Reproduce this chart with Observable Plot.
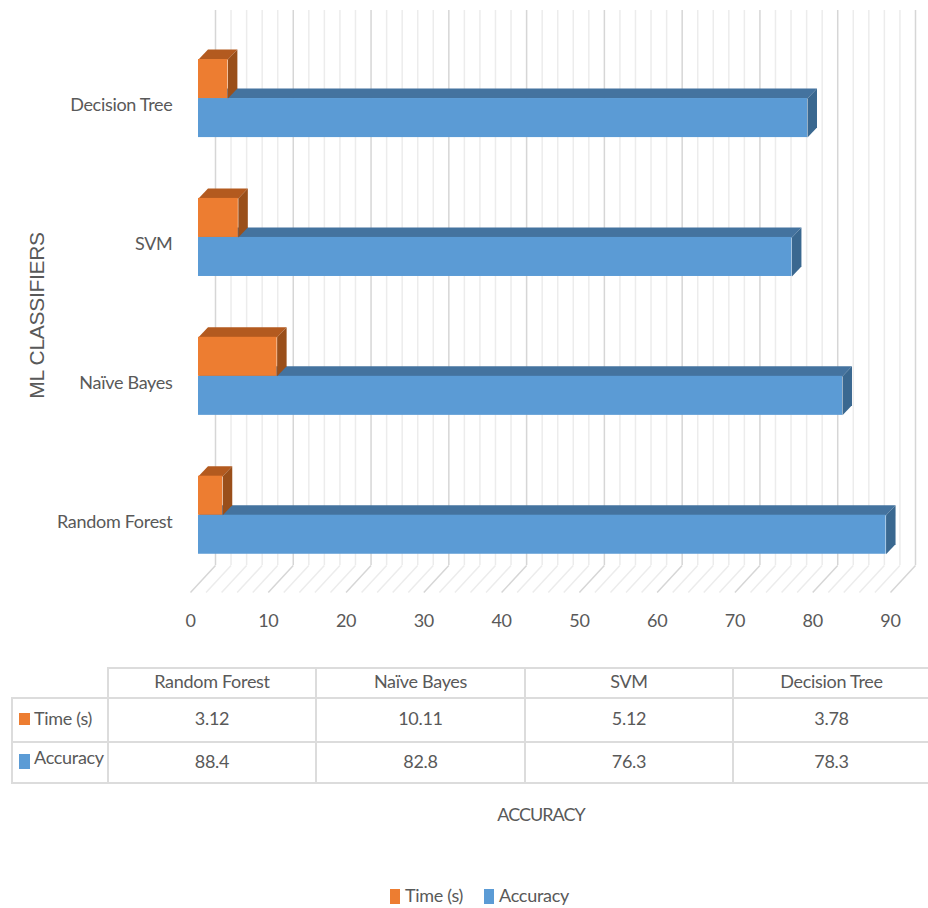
<!DOCTYPE html>
<html>
<head>
<meta charset="utf-8">
<script src="https://cdn.jsdelivr.net/npm/d3@7"></script>
<script src="https://cdn.jsdelivr.net/npm/@observablehq/plot@0.6"></script>
<style>
  html, body { margin: 0; padding: 0; background: #fff; }
  #page { position: relative; width: 928px; height: 908px; overflow: hidden;
          font-family: Lato, sans-serif; color: #595959; letter-spacing: -0.3px; }
  #chart { position: absolute; left: 0; top: 0; }
  #chart svg { display: block; }
  table { position: absolute; left: 11px; top: 667px; border-collapse: collapse; table-layout: fixed;
          width: 917px; font-size: 18px; line-height: 20px; }
  td { border: 2px solid #dcdcdc; text-align: center; padding: 0; white-space: nowrap; overflow: hidden; }
  td > span.t { position: relative; top: -2px; }
  tr.head td { height: 28px; }
  tr.time td { height: 42px; }
  tr.acc td { height: 39px; }
  tr.acc td > span.t { top: -2px; }
  tr.acc td.name > span.t { top: -5px; }
  td.blank { border-left: none; border-top: none; }
  td.name { text-align: left; padding-left: 6px; }
  td:last-child { border-right: none; }
  .key { display: inline-block; width: 11px; height: 12px; margin-right: 4px; position: relative; top: -2px; }
  tr.acc .key { height: 15px; vertical-align: -5px; top: -5px; }
  #axisTitle { position: absolute; left: 441px; width: 200px; top: 803px; text-align: center; font-size: 18px; letter-spacing: -1px; }
  #legend { position: absolute; left: 390px; top: 883px; font-size: 18px; white-space: nowrap; line-height: 24px; }
  #legend .key { width: 10px; height: 15px; vertical-align: -2px; margin-right: 5px; top: 0; }
  #legend span.item { margin-right: 21px; }
</style>
</head>
<body>
<div id="page">
  <div id="chart"></div>
  <table id="data"></table>
  <div id="axisTitle">ACCURACY</div>
  <div id="legend"></div>
</div>
<script>
// Classifier results, listed bottom to top as they stack on the chart
const categories = ["Random Forest", "Naïve Bayes", "SVM", "Decision Tree"];
const timeSeconds = [3.12, 10.11, 5.12, 3.78];
const accuracy = [88.4, 82.8, 76.3, 78.3];
const xTicks = [0, 10, 20, 30, 40, 50, 60, 70, 80, 90];
const minorGrid = d3.range(0, 91, 2).filter(d => d % 10 !== 0);

const orange = {front: "#ED7D31", top: "#B35A1F", side: "#9A4F1A"};
const blue = {front: "#5B9BD5", top: "#44739F", side: "#3A6890"};

// Extrusion and wall offsets of the pseudo-3D box, in scale units
const barH = 0.281, depthX = 1.22, depthY = 0.072;
const backX = 2.185, frontX = -1.03;
const wallTop = 3.634, wallBottom = -0.362, floorFront = -0.557;

// Parallelogram outlines of a bar's top and side faces
function topFaces(values, base) {
  return values.flatMap((v, i) => {
    const y = i + base;
    return [[0, y], [v, y], [v + depthX, y + depthY], [depthX, y + depthY]]
      .map(([x, yy]) => ({id: i, x, y: yy}));
  });
}
function sideFaces(values, y1, y2) {
  return values.flatMap((v, i) =>
    [[v, i + y1], [v + depthX, i + y1 + depthY], [v + depthX, i + y2 + depthY], [v, i + y2]]
      .map(([x, y]) => ({id: i, x, y})));
}

function gridMarks(values, stroke) {
  return [
    Plot.ruleX(values, {x: d => d + backX, y1: wallBottom, y2: wallTop, stroke, strokeWidth: 1.5}),
    Plot.link(values, {x1: d => d + backX, x2: d => d + frontX, y1: wallBottom, y2: floorFront, stroke, strokeWidth: 1.5})
  ];
}

const rows = categories.map((c, i) => ({i, time: timeSeconds[i], accuracy: accuracy[i]}));

const chart = Plot.plot({
  width: 928,
  height: 660,
  marginLeft: 198,
  marginRight: 30,
  marginTop: 10,
  marginBottom: 60,
  style: {background: "transparent", fontFamily: "Lato", letterSpacing: "-0.3px"},
  x: {domain: [0, 90], axis: null},
  y: {domain: [-0.614, wallTop], axis: null},
  marks: [
    ...gridMarks(minorGrid, "#ececec"),
    ...gridMarks(xTicks, "#d6d6d6"),

    Plot.axisX({ticks: xTicks, tickSize: 0, tickPadding: 14, dx: -8, fontSize: 18, color: "#595959", label: null}),
    Plot.axisY({ticks: [0, 1, 2, 3], tickFormat: i => categories[i], tickSize: 0, tickPadding: 26, dy: 7, fontSize: 18, color: "#595959", label: null}),
    Plot.text(["ML CLASSIFIERS"], {frameAnchor: "left", textAnchor: "middle", dx: -161, dy: 10, rotate: -90, fontSize: 21, fill: "#595959", fontFamily: "Liberation Sans", letterSpacing: "0"}),

    // Accuracy bars
    Plot.line(topFaces(accuracy, 0), {x: "x", y: "y", z: "id", fill: blue.top, stroke: "none"}),
    Plot.line(sideFaces(accuracy, 0, -barH), {x: "x", y: "y", z: "id", fill: blue.side, stroke: "none"}),
    Plot.rect(rows, {x1: 0, x2: "accuracy", y1: d => d.i - barH, y2: d => d.i, fill: blue.front}),

    // Time bars, sitting just behind and above the accuracy bars
    Plot.line(topFaces(timeSeconds, barH), {x: "x", y: "y", z: "id", fill: orange.top, stroke: "none"}),
    Plot.line(sideFaces(timeSeconds, 0, barH), {x: "x", y: "y", z: "id", fill: orange.side, stroke: "none"}),
    Plot.rect(rows, {x1: 0, x2: "time", y1: d => d.i, y2: d => d.i + barH, fill: orange.front})
  ]
});
document.getElementById("chart").append(chart);

// Data table under the axis
const keySwatch = color => `<span class="key" style="background:${color}"></span>`;
const cell = v => `<td><span class="t">${v}</span></td>`;
document.getElementById("data").innerHTML = `
  <colgroup><col style="width:96px"><col style="width:208px"><col style="width:209px"><col style="width:208px"><col style="width:196px"></colgroup>
  <tr class="head"><td class="blank"></td>${categories.map(cell).join("")}</tr>
  <tr class="time"><td class="name">${keySwatch(orange.front)}<span class="t">Time (s)</span></td>${timeSeconds.map(cell).join("")}</tr>
  <tr class="acc"><td class="name">${keySwatch(blue.front)}<span class="t">Accuracy</span></td>${accuracy.map(cell).join("")}</tr>`;

document.getElementById("legend").innerHTML =
  `<span class="item">${keySwatch(orange.front)}Time (s)</span><span class="item">${keySwatch(blue.front)}Accuracy</span>`;
</script>
</body>
</html>
